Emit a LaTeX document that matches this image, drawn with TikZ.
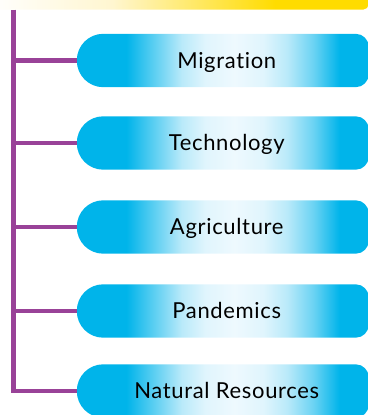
\documentclass[tikz,border=0pt]{standalone}
\usepackage{fontspec}
\setmainfont{Lato}[Ligatures=NoCommon, LetterSpace=3]
\pgfdeclarelayer{background}
\pgfsetlayers{background,main}

\definecolor{pillcyan}{RGB}{0,180,234}
\definecolor{pilllight}{RGB}{238,249,254}
\definecolor{spinepurple}{RGB}{153,66,152}
\definecolor{baryellow}{RGB}{255,220,0}
\definecolor{barcream}{RGB}{255,246,208}

% shadings span 25bp..75bp across the filled path
\pgfdeclarehorizontalshading{pillgrad}{100bp}{color(0bp)=(pillcyan); color(33.5bp)=(pillcyan);
  color(39bp)=(pillcyan!55!pilllight); color(43bp)=(pillcyan!22!pilllight); color(47bp)=(pillcyan!6!pilllight);
  color(52bp)=(pilllight);
  color(57bp)=(pillcyan!6!pilllight); color(61bp)=(pillcyan!22!pilllight); color(65.5bp)=(pillcyan!55!pilllight);
  color(70bp)=(pillcyan); color(100bp)=(pillcyan)}
\pgfdeclarehorizontalshading{bargrad}{100bp}{color(0bp)=(white); color(26bp)=(white); color(42bp)=(barcream); color(63bp)=(baryellow); color(100bp)=(baryellow)}

\tikzset{
  pill/.style={rectangle, minimum width=291.5pt, minimum height=53pt, inner sep=0pt,
    text height=15.5pt, text depth=0pt, font=\fontsize{22}{25}\selectfont, text=black},
  pillfill/.style={shading=pillgrad},
  spine/.style={draw=spinepurple, line width=4.8pt},
}

\begin{document}
\begin{tikzpicture}[x=1pt, y=-1pt]
\useasboundingbox (0,0) rectangle (369,415);

% header strip
\shade[shading=bargrad, rounded corners=5pt] (-20,-20) rectangle (368.5,9.5);

% topic pills
\foreach \name/\yc/\label in {n1/60.5/Migration, n2/143/Technology, n3/227/Agriculture, n4/311/Pandemics, n5/391/Natural Resources}{
  \node[pill] (\name) at (222.75,\yc) {\hspace*{8pt}\label};
  \begin{pgfonlayer}{background}
    \path[pillfill] [rounded corners=26.5pt] (\name.north) -- (\name.north west) -- (\name.south west) -- (\name.south)
      [rounded corners=13pt] -- (\name.south east) -- (\name.north east) -- cycle;
  \end{pgfonlayer}
}

% spine and branches
\coordinate (top) at (13.5,9.5);
\draw[spine] (top) |- (n5.west);
\foreach \name in {n1,n2,n3,n4}{
  \draw[spine] (top |- \name.west) -- (\name.west);
}
\end{tikzpicture}
\end{document}
